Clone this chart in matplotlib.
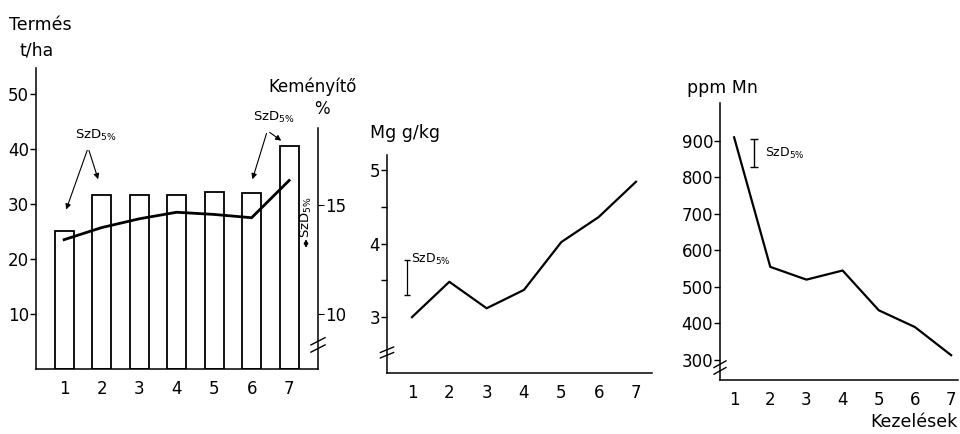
import matplotlib
matplotlib.use("Agg")
import matplotlib.pyplot as plt
import numpy as np

plt.rcParams['font.family'] = ['DejaVu Sans']
plt.rcParams['mathtext.fontset'] = 'dejavusans'

# data
kezeles = [1, 2, 3, 4, 5, 6, 7]
termes = [25.0, 31.6, 31.6, 31.6, 32.2, 32.0, 40.5]        # t/ha (bars)
kemenyito = [13.4, 13.95, 14.35, 14.65, 14.55, 14.4, 16.1]  # % (line)
mg = [3.0, 3.48, 3.12, 3.37, 4.02, 4.36, 4.84]              # Mg g/kg
mn = [910, 555, 520, 545, 436, 390, 313]                     # ppm Mn

szd_label = "SzD$_{5\\%}$"
W, H = 960, 434

fig = plt.figure(figsize=(9.6, 4.34), dpi=100)

def px_axes(x0, y0, x1, y1):
    # pixel box (left, top, right, bottom) -> figure fraction
    return fig.add_axes([x0 / W, 1 - y1 / H, (x1 - x0) / W, (y1 - y0) / H])

def style(ax):
    for s in ['top', 'right']:
        ax.spines[s].set_visible(False)
    ax.spines['left'].set_linewidth(1.1)
    ax.spines['bottom'].set_linewidth(1.1)
    ax.tick_params(axis='x', length=0, pad=8, labelsize=12)
    ax.tick_params(axis='y', length=4, width=1, pad=1, labelsize=12)
    ax.set_facecolor('none')

def axis_break(ax, x, y, tr):
    for dy in (-0.012, 0.012):
        ax.plot([x - 0.025, x + 0.025], [y + dy - 0.012, y + dy + 0.012],
                color='black', lw=1, transform=tr, clip_on=False)

arrow_kw = dict(arrowstyle='-|>', color='black', lw=0.8, mutation_scale=8)

# ---- left: yield bars + starch line ----
ax1 = px_axes(36, 68, 318, 369)
style(ax1)
ax1.bar(kezeles, termes, width=0.5, facecolor='white', edgecolor='black', lw=1.3)
ax1.set_xlim(0.25, 7.77)
ax1.set_ylim(0, 54.7)
ax1.set_xticks(kezeles)
ax1.set_yticks([10, 20, 30, 40, 50])
ax1.text(-0.095, 1.125, "Termés", transform=ax1.transAxes, fontsize=12.5, ha='left', va='baseline')
ax1.text(-0.06, 1.04, "t/ha", transform=ax1.transAxes, fontsize=12.5, ha='left', va='baseline')

ax1b = ax1.twinx()
ax1b.set_ylim(7.5, 21.23)
for s in ['top', 'left', 'bottom']:
    ax1b.spines[s].set_visible(False)
ax1b.spines['right'].set_bounds(7.5, 18.5)
ax1b.spines['right'].set_linewidth(1.1)
ax1b.set_yticks([10, 15])
ax1b.tick_params(axis='y', length=4, pad=1, labelsize=12)
ax1b.plot(kezeles, kemenyito, color='black', lw=2)
ax1b.text(0.823, 0.92, "Keményítő", transform=ax1b.transAxes, fontsize=12, ha='left', va='baseline')
ax1b.text(1.014, 0.848, "%", transform=ax1b.transAxes, fontsize=12, ha='center', va='baseline')
axis_break(ax1b, 1.0, 0.08, ax1b.transAxes)

# SzD arrows on bars
ax1.text(1.85, 42.4, szd_label, fontsize=9.5, ha='center', va='center')
ax1.annotate("", xy=(1.03, 28.5), xytext=(1.64, 40.2), arrowprops=arrow_kw)
ax1.annotate("", xy=(1.93, 34.0), xytext=(1.64, 40.2), arrowprops=arrow_kw)
ax1.text(6.6, 45.8, szd_label, fontsize=9.5, ha='center', va='center')
ax1.annotate("", xy=(6.0, 34.0), xytext=(6.42, 43.3), arrowprops=arrow_kw)
ax1.annotate("", xy=(6.85, 41.2), xytext=(6.42, 43.3), arrowprops=arrow_kw)
ax1b.text(7.45, 14.45, szd_label, fontsize=9.5, rotation=90, ha='center', va='center')
ax1b.annotate("", xy=(7.45, 12.9), xytext=(7.45, 13.55),
              arrowprops=dict(arrowstyle='<|-|>', color='black', lw=0.9, mutation_scale=6))

# ---- middle: Mg ----
ax2 = px_axes(387, 145, 652, 373)
style(ax2)
ax2.plot(kezeles, mg, color='black', lw=1.6)
ax2.set_xlim(0.33, 7.43)
ax2.set_ylim(2.24, 5.34)
ax2.set_xticks(kezeles)
ax2.set_yticks([3, 4, 5])
ax2.set_yticks([3.5, 4.5], minor=True)
ax2.tick_params(axis='y', which='minor', length=4, width=1)
ax2.spines['left'].set_bounds(2.24, 5.2)
ax2.text(-0.064, 1.03, "Mg g/kg", transform=ax2.transAxes, fontsize=12.5, ha='left', va='baseline')
ax2.errorbar([0.87], [3.54], yerr=[[0.24], [0.24]], fmt='none', ecolor='black',
             elinewidth=0.9, capsize=2.5, ls='--')
ax2.text(0.98, 3.78, szd_label, fontsize=9, ha='left', va='center')
axis_break(ax2, 0.0, 0.09, ax2.transAxes)

# ---- right: Mn ----
ax3 = px_axes(720, 103, 958, 380)
style(ax3)
ax3.plot(kezeles, mn, color='black', lw=1.6)
ax3.set_xlim(0.61, 7.19)
ax3.set_ylim(245, 1004)
ax3.set_xticks(kezeles)
ax3.set_yticks([300, 400, 500, 600, 700, 800, 900])
ax3.text(-0.139, 1.036, "ppm Mn", transform=ax3.transAxes, fontsize=12.5, ha='left', va='baseline')
ax3.text(1.0, -0.17, "Kezelések", transform=ax3.transAxes, fontsize=12.5, ha='right')
ax3.errorbar([1.55], [868], yerr=[[38], [38]], fmt='none', ecolor='black',
             elinewidth=1, capsize=3)
ax3.text(1.85, 865, szd_label, fontsize=9, ha='left', va='center')
axis_break(ax3, 0.0, 0.045, ax3.transAxes)

fig.savefig("out.png", dpi=100, facecolor='white')
